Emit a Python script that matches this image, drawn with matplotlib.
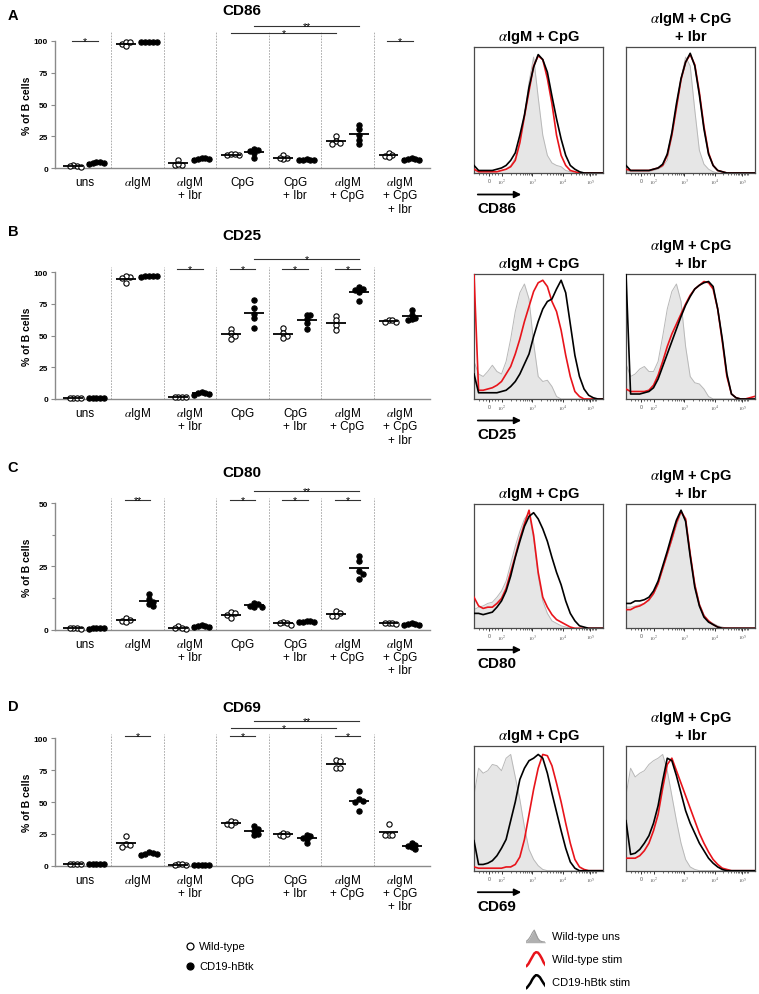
import matplotlib
matplotlib.use("Agg")
import matplotlib.pyplot as plt
import numpy as np
from matplotlib.lines import Line2D

plt.rcParams['font.family'] = ['Liberation Sans', 'DejaVu Sans']
plt.rcParams['mathtext.fontset'] = 'stix'

W, H = 759, 995
fig = plt.figure(figsize=(W / 100, H / 100), dpi=100)


def fx(x):
    return x / W


def fy(y):
    return 1 - y / H


# ---------------------------------------------------------------- data
CATEGORIES = ["uns", r"$\alpha$IgM", "$\\alpha$IgM\n+ Ibr", "CpG", "CpG\n+ Ibr",
              "$\\alpha$IgM\n+ CpG", "$\\alpha$IgM\n+ CpG\n+ Ibr"]

CD86_WT = [[1.5, 1, 2, 1.5], [98, 99, 99, 96], [6.5, 2.5, 2.5, 3], [10, 11, 10, 11],
           [10, 8, 7, 7.5], [25, 21, 19, 20], [12, 10, 9.5, 9]]
CD86_HB = [[4, 4.5, 3.5, 5, 4], [99.5, 99.5, 99.5, 99.5, 99.5], [8, 7, 6.5, 7.5, 7],
           [15, 14, 13, 12, 8], [7, 6, 6.5, 6, 6], [34, 31, 26, 22, 19], [7, 6.5, 7, 6, 7.5]]

CD25_WT = [[1, 1, 1, 1], [96, 97, 95, 91], [1.5, 1.2, 1.8, 1.5], [55, 52, 50, 47],
           [56, 52, 50, 48], [65, 62, 58, 54], [62, 61, 61, 62]]
CD25_HB = [[0.5, 0.5, 0.5, 0.5, 0.5], [96.5, 96.8, 96.4, 96.6, 96.7], [5, 4, 3.5, 5.5, 4.5],
           [78, 72, 67, 64, 56], [66, 66, 63, 60, 55], [88, 87, 86, 84, 77], [70, 66, 64, 63, 62]]

CD80_WT = [[0.5, 0.4, 0.6, 0.5], [4.5, 4, 3.5, 3], [1.5, 0.3, 0.5, 0.5], [7, 6.5, 6, 4.5],
           [3, 2.5, 2, 2.5], [7.5, 6.5, 5.5, 5.5], [2.8, 2.5, 2.2, 2.5]]
CD80_HB = [[0.5, 0.6, 0.4, 0.5, 0.5], [14, 12, 11, 10, 9.5], [1.5, 1.8, 1, 1.2, 1.5],
           [10.5, 10, 9.5, 9, 9], [3.5, 3.5, 3, 3, 3], [29, 27, 23, 22, 20], [2.5, 2.2, 2, 2, 2.3]]

CD69_WT = [[1, 1, 1, 1], [23, 17, 16, 15], [1.5, 0.5, 0.5, 1], [35, 34, 33, 32],
           [26, 25, 24, 23], [83, 82, 77, 77], [33, 24, 24, 24]]
CD69_HB = [[1, 1, 1, 1, 1], [10.5, 10, 9.5, 9, 8.5], [0.5, 0.5, 0.5, 0.5, 0.5],
           [31, 29, 27, 25, 24], [24, 23, 22, 21, 18], [59, 52, 51, 50, 43],
           [17.5, 16.5, 15.5, 14.5, 13]]

# significance: (group1, side1, group2, side2, y value, label); side -1 = WT, +1 = hBtk
CD86_SIG = [(0, -1, 0, 1, 100.2, "*"), (6, -1, 6, 1, 100.2, "*"),
            (3, -1, 5, -1, 106.3, "*"), (3, 1, 5, 1, 112, "**")]
CD25_SIG = [(2, -1, 2, 1, 102, "*"), (3, -1, 3, 1, 102, "*"), (4, -1, 4, 1, 102, "*"),
            (5, -1, 5, 1, 102, "*"), (3, 1, 5, 1, 110, "*")]
CD80_SIG = [(1, -1, 1, 1, 51.2, "**"), (3, -1, 3, 1, 51.2, "*"), (4, -1, 4, 1, 51.2, "*"),
            (5, -1, 5, 1, 51.2, "*"), (3, 1, 5, 1, 54.9, "**")]
CD69_SIG = [(1, -1, 1, 1, 102.1, "*"), (3, -1, 3, 1, 102.1, "*"), (5, -1, 5, 1, 102.1, "*"),
            (3, -1, 5, -1, 108.2, "*"), (3, 1, 5, 1, 113.9, "**")]

# flow histograms: fluorescence channel (display units, 10^2 = 2 ... ) and % of mode
HIST_U = [1.10, 1.25, 1.40, 1.55, 1.70, 1.85, 2.00, 2.15, 2.30, 2.45, 2.60, 2.75, 2.90, 3.05,
          3.20, 3.35, 3.50, 3.65, 3.80, 3.95, 4.10, 4.25, 4.40, 4.55, 4.70, 4.85, 5.00, 5.15, 5.30]
HIST_TICK_POS = [1.6, 2, 3, 4, 4.9]
HIST_TICK_LAB = ["0", "$10^2$", "$10^3$", "$10^4$", "$10^5$"]

CD86_STIM_UNS = [3, 1, 1, 1, 1, 1, 2, 3, 6, 12, 25, 45, 72, 92, 60, 30, 14, 8, 6, 5, 2, 1, 0, 0, 0, 0, 0, 0, 0]
CD86_STIM_WT = [3, 1, 1, 1, 1, 1, 2, 3, 5, 10, 24, 45, 65, 85, 93, 90, 75, 55, 30, 14, 6, 2, 1, 0, 0, 0, 0, 0, 0]
CD86_STIM_HB = [6, 2, 2, 2, 2, 3, 4, 6, 10, 16, 30, 46, 68, 84, 94, 90, 80, 61, 43, 27, 14, 6, 3, 1, 0, 0, 0, 0, 0]
CD86_IBR_UNS = [2, 1, 1, 1, 1, 1, 2, 3, 5, 10, 28, 50, 75, 92, 85, 50, 18, 7, 3, 1, 0, 0, 0, 0, 0, 0, 0, 0, 0]
CD86_IBR_WT = [3, 2, 2, 2, 2, 2, 3, 4, 6, 14, 30, 52, 74, 88, 94, 86, 64, 37, 16, 6, 2, 1, 0, 0, 0, 0, 0, 0, 0]
CD86_IBR_HB = [6, 2, 2, 2, 2, 2, 3, 4, 7, 15, 32, 55, 75, 88, 95, 85, 62, 35, 15, 6, 2, 1, 0, 0, 0, 0, 0, 0, 0]

CD25_STIM_UNS = [30, 20, 18, 22, 27, 22, 20, 30, 48, 70, 85, 92, 80, 45, 18, 14, 15, 10, 2, 0, 0, 0, 0, 0, 0, 0, 0, 0, 0]
CD25_STIM_WT = [100, 7, 7, 8, 9, 11, 14, 20, 26, 36, 48, 62, 74, 86, 93, 95, 90, 78, 70, 55, 35, 18, 6, 2, 0, 0, 0, 0, 0]
CD25_STIM_HB = [20, 5, 5, 5, 5, 5, 6, 7, 10, 14, 20, 28, 36, 50, 62, 72, 78, 80, 88, 95, 85, 60, 35, 18, 8, 3, 1, 0, 0]
CD25_IBR_UNS = [28, 18, 20, 24, 26, 22, 22, 30, 50, 72, 86, 92, 78, 42, 18, 13, 12, 8, 2, 0, 0, 0, 0, 0, 0, 0, 0, 0, 0]
CD25_IBR_WT = [8, 6, 6, 6, 6, 7, 11, 19, 30, 42, 52, 60, 68, 76, 83, 88, 91, 94, 93, 88, 72, 46, 18, 4, 1, 0, 0, 1, 2]
CD25_IBR_HB = [100, 4, 4, 4, 5, 6, 9, 16, 26, 36, 46, 56, 66, 75, 82, 88, 91, 93, 94, 90, 72, 48, 20, 4, 1, 0, 0, 0, 0]

CD80_STIM_UNS = [15, 17, 18, 20, 21, 25, 30, 38, 52, 66, 78, 88, 93, 72, 42, 22, 12, 6, 4, 2, 1, 0, 0, 0, 0, 0, 0, 0, 0]
CD80_STIM_WT = [25, 18, 16, 17, 17, 20, 24, 32, 45, 58, 72, 84, 95, 75, 45, 25, 17, 11, 7, 5, 3, 1, 0, 0, 0, 0, 0, 0, 0]
CD80_STIM_HB = [12, 12, 11, 12, 13, 17, 22, 30, 42, 57, 70, 82, 90, 93, 88, 80, 70, 57, 45, 35, 22, 12, 6, 2, 1, 0, 0, 0, 0]
CD80_IBR_UNS = [17, 17, 18, 19, 20, 22, 27, 35, 47, 58, 70, 82, 93, 88, 60, 36, 20, 11, 6, 4, 2, 1, 0, 0, 0, 0, 0, 0, 0]
CD80_IBR_WT = [15, 15, 17, 18, 20, 23, 28, 36, 48, 60, 72, 85, 94, 88, 60, 35, 19, 10, 6, 3, 1, 0, 0, 0, 0, 0, 0, 0, 0]
CD80_IBR_HB = [20, 20, 22, 22, 23, 25, 30, 38, 50, 62, 75, 87, 95, 86, 58, 33, 18, 9, 5, 3, 1, 0, 0, 0, 0, 0, 0, 0, 0]

CD69_STIM_UNS = [60, 82, 78, 80, 85, 84, 80, 90, 93, 75, 57, 35, 17, 9, 4, 1, 0, 0, 0, 0, 0, 0, 0, 0, 0, 0, 0, 0, 0]
CD69_STIM_WT = [3, 2, 2, 2, 2, 2, 2, 3, 3, 5, 11, 25, 45, 65, 82, 93, 92, 84, 70, 55, 38, 22, 9, 3, 1, 0, 0, 0, 0]
CD69_STIM_HB = [24, 5, 5, 6, 8, 12, 18, 25, 40, 55, 73, 82, 88, 90, 93, 90, 78, 62, 47, 32, 18, 7, 2, 0, 0, 0, 0, 0, 0]
CD69_IBR_UNS = [60, 82, 75, 78, 80, 85, 88, 90, 93, 80, 60, 40, 22, 9, 3, 1, 0, 0, 0, 0, 0, 0, 0, 0, 0, 0, 0, 0, 0]
CD69_IBR_WT = [10, 10, 10, 12, 16, 22, 32, 45, 66, 85, 90, 80, 70, 60, 50, 40, 30, 22, 15, 9, 5, 2, 1, 0, 0, 0, 0, 0, 0]
CD69_IBR_HB = [40, 13, 14, 17, 22, 28, 38, 52, 72, 90, 88, 76, 62, 48, 38, 30, 22, 16, 10, 6, 3, 1, 0, 0, 0, 0, 0, 0, 0]

# ---------------------------------------------------------------- layout
PANELS = [
    dict(letter="A", marker="CD86", wt=CD86_WT, hb=CD86_HB, sig=CD86_SIG,
         ticks=[0, 25, 50, 75, 100], minor=[], divtop=107,
         y0=169, scale=1.27, top=16, letter_xy=(13, 16), title_y=11,
         box=(48, 174),
         hists=[(CD86_STIM_UNS, CD86_STIM_WT, CD86_STIM_HB), (CD86_IBR_UNS, CD86_IBR_WT, CD86_IBR_HB)]),
    dict(letter="B", marker="CD25", wt=CD25_WT, hb=CD25_HB, sig=CD25_SIG,
         ticks=[0, 25, 50, 75, 100], minor=[], divtop=104,
         y0=400, scale=1.27, top=250, letter_xy=(13, 232), title_y=236,
         box=(275, 400),
         hists=[(CD25_STIM_UNS, CD25_STIM_WT, CD25_STIM_HB), (CD25_IBR_UNS, CD25_IBR_WT, CD25_IBR_HB)]),
    dict(letter="C", marker="CD80", wt=CD80_WT, hb=CD80_HB, sig=CD80_SIG,
         ticks=[0, 25, 50], minor=[12.5, 37.5], divtop=52,
         y0=630.7, scale=2.533, top=485, letter_xy=(13, 468), title_y=473,
         box=(505, 629.3),
         hists=[(CD80_STIM_UNS, CD80_STIM_WT, CD80_STIM_HB), (CD80_IBR_UNS, CD80_IBR_WT, CD80_IBR_HB)]),
    dict(letter="D", marker="CD69", wt=CD69_WT, hb=CD69_HB, sig=CD69_SIG,
         ticks=[0, 25, 50, 75, 100], minor=[], divtop=103.5,
         y0=866.7, scale=1.274, top=715, letter_xy=(13, 707), title_y=708,
         box=(746.7, 871.7),
         hists=[(CD69_STIM_UNS, CD69_STIM_WT, CD69_STIM_HB), (CD69_IBR_UNS, CD69_IBR_WT, CD69_IBR_HB)]),
]

AX_L, AX_R = 55, 430
XLIM = (-0.57, 6.57)
PX_PER_X = (AX_R - AX_L) / (XLIM[1] - XLIM[0])
SIDE = 0.22
SPINE_C = "#8a8a8a"
DIAM = 5.4  # marker diameter in px


def swarm(values, center, yscale):
    vals = np.asarray(values, float)
    order = np.argsort(-vals, kind="stable")
    placed = []
    xs = np.zeros(len(vals))
    step = DIAM * 0.7
    for i in order:
        y = vals[i] * yscale
        for k in [0, 1, -1, 2, -2, 3, -3, 4, -4]:
            xo = k * step
            if all((xo - px) ** 2 + (y - py) ** 2 >= (DIAM * 0.65) ** 2 for px, py in placed):
                break
        placed.append((xo, y))
        xs[i] = center + xo / PX_PER_X
    return xs


def gx(g):
    return AX_L + (g - XLIM[0]) * PX_PER_X


for p in PANELS:
    y0, sc, top = p["y0"], p["scale"], p["top"]
    ax = fig.add_axes([fx(AX_L), fy(y0), (AX_R - AX_L) / W, (y0 - top) / H])
    ax.set_xlim(*XLIM)
    ax.set_ylim(0, (y0 - top) / sc)
    for s in ["top", "right"]:
        ax.spines[s].set_visible(False)
    for s in ["left", "bottom"]:
        ax.spines[s].set_color(SPINE_C)
        ax.spines[s].set_linewidth(1.0)
    ax.spines["left"].set_bounds(0, p["ticks"][-1])
    ax.set_xticks([])
    ax.set_yticks(p["ticks"])
    ax.set_yticklabels([str(t) for t in p["ticks"]], fontsize=6, fontweight="bold")
    if p["minor"]:
        ax.set_yticks(p["minor"], minor=True)
    ax.tick_params(axis="y", which="major", length=3, width=0.8, color=SPINE_C, pad=2)
    ax.tick_params(axis="y", which="minor", length=2, width=0.8, color=SPINE_C)

    # group dividers
    for g in range(len(CATEGORIES) - 1):
        ax.plot([g + 0.5, g + 0.5], [0, p["divtop"]], ls=(0, (2, 1.5)), color="#a0a0a0",
                lw=0.6, zorder=1)

    for g in range(len(CATEGORIES)):
        for side, data, fill in [(-1, p["wt"], "white"), (1, p["hb"], "black")]:
            vals = data[g]
            c = g + side * SIDE
            xs = swarm(vals, c, sc)
            ax.plot(xs, vals, "o", ms=3.8, mfc=fill, mec="black", mew=0.8,
                    clip_on=False, zorder=3)
            m = np.mean(vals)
            ax.plot([c - 0.19, c + 0.19], [m, m], color="black", lw=1.3,
                    solid_capstyle="butt", zorder=4, clip_on=False)

    for g1, s1, g2, s2, yv, lab in p["sig"]:
        if g1 == g2:
            xa, xb = g1 - 0.24, g1 + 0.24
        else:
            xa, xb = g1 + s1 * SIDE, g2 + s2 * SIDE
        ax.plot([xa, xb], [yv, yv], color="#333333", lw=0.8, clip_on=False)
        ax.annotate(lab, ((xa + xb) / 2, yv), xytext=(0, -2.2), textcoords="offset points",
                    ha="center", va="baseline", fontsize=7.5)

    # category labels
    for g, cat in enumerate(CATEGORIES):
        for i, line in enumerate(cat.split("\n")):
            fig.text(fx(gx(g)), fy(y0 + 17 + 13.3 * i), line, ha="center", va="baseline",
                     fontsize=8.5)

    # y label, title, panel letter
    mid = y0 - p["ticks"][-1] * sc / 2
    fig.text(fx(27), fy(mid), "% of B cells", rotation=90, ha="center", va="center",
             fontsize=7.5, fontweight="bold")
    fig.text(fx(242), fy(p["title_y"]), p["marker"], ha="center", va="center",
             fontsize=11, fontweight="bold")
    fig.text(fx(p["letter_xy"][0]), fy(p["letter_xy"][1]), p["letter"], ha="center",
             va="center", fontsize=10.5, fontweight="bold")

    # histograms
    btop, bbot = p["box"]
    titles = [[r"$\alpha$IgM + CpG"], [r"$\alpha$IgM + CpG", "+ Ibr"]]
    for k, (left, curves) in enumerate(zip([474, 626], p["hists"])):
        uns, wt, hb = curves
        hax = fig.add_axes([fx(left), fy(bbot), 129 / W, (bbot - btop) / H])
        hax.fill_between(HIST_U, uns, 0, color="#e6e6e6", lw=0, zorder=1)
        hax.plot(HIST_U, uns, color="#b8b8b8", lw=0.7, zorder=2)
        hax.plot(HIST_U, wt, color="#e8141b", lw=1.2, zorder=3)
        hax.plot(HIST_U, hb, color="black", lw=1.2, zorder=4)
        hax.set_xlim(1.1, 5.32)
        hax.set_ylim(0, 100)
        hax.set_yticks([])
        for s in hax.spines.values():
            s.set_color("#4a4a4a")
            s.set_linewidth(0.9)
        hax.set_xticks(HIST_TICK_POS)
        hax.set_xticklabels(HIST_TICK_LAB, fontsize=3.8, color="#555555")
        minor = [1.25, 1.4, 1.5, 1.7, 1.8, 1.9]
        for d in (2, 3):
            minor += [d + np.log10(m) for m in range(2, 10)]
        minor += [4 + 0.9 * np.log10(m) for m in range(2, 10)]
        minor += [4.95, 5.0, 5.05, 5.1]
        hax.set_xticks(minor, minor=True)
        hax.tick_params(axis="x", which="major", length=2, width=0.7, color="#333333", pad=1.5)
        hax.tick_params(axis="x", which="minor", length=1.2, width=0.5, color="#333333")
        tl = titles[k]
        for i, line in enumerate(reversed(tl)):
            fig.text(fx(left + 64.5), fy(btop - 11.5 - 18 * i + 4.8), line, ha="center",
                     va="baseline", fontsize=10.5, fontweight="bold")
    # arrow + marker label
    fig.add_artist(matplotlib.patches.FancyArrowPatch(
        (fx(475), fy(bbot + 21.5)), (fx(524), fy(bbot + 21.5)), transform=fig.transFigure,
        arrowstyle="-|>", mutation_scale=10, lw=1.3, color="black"))
    fig.text(fx(497), fy(bbot + 35), p["marker"], ha="center", va="center", fontsize=11,
             fontweight="bold")

# ---------------------------------------------------------------- legends
fig.add_artist(Line2D([fx(190)], [fy(946.7)], marker="o", ms=5, mfc="white", mec="black",
                      mew=0.9, transform=fig.transFigure))
fig.add_artist(Line2D([fx(190)], [fy(966.7)], marker="o", ms=5, mfc="black", mec="black",
                      mew=0.9, transform=fig.transFigure))
fig.text(fx(199), fy(946.7), "Wild-type", ha="left", va="center", fontsize=8)
fig.text(fx(199), fy(966.7), "CD19-hBtk", ha="left", va="center", fontsize=8)

icons = [(930, 944, CD86_STIM_UNS, "grey", "Wild-type uns"),
         (952, 969, CD86_STIM_WT, "#e8141b", "Wild-type stim"),
         (975, 992, CD86_STIM_HB, "black", "CD19-hBtk stim")]
for ytop, ybot, curve, col, lab in icons:
    iax = fig.add_axes([fx(526), fy(ybot), 19 / W, (ybot - ytop) / H])
    if col == "grey":
        iax.fill_between(HIST_U, curve, 0, color="#b0b0b0", lw=0)
        iax.plot(HIST_U, curve, color="#9a9a9a", lw=0.8)
    else:
        iax.plot(HIST_U, curve, color=col, lw=1.8)
    iax.set_xlim(2.4, 3.9)
    iax.set_ylim(-2, 100)
    iax.axis("off")
    fig.text(fx(552), fy((ytop + ybot) / 2), lab, ha="left", va="center", fontsize=8)

fig.savefig("out.png", dpi=100)
